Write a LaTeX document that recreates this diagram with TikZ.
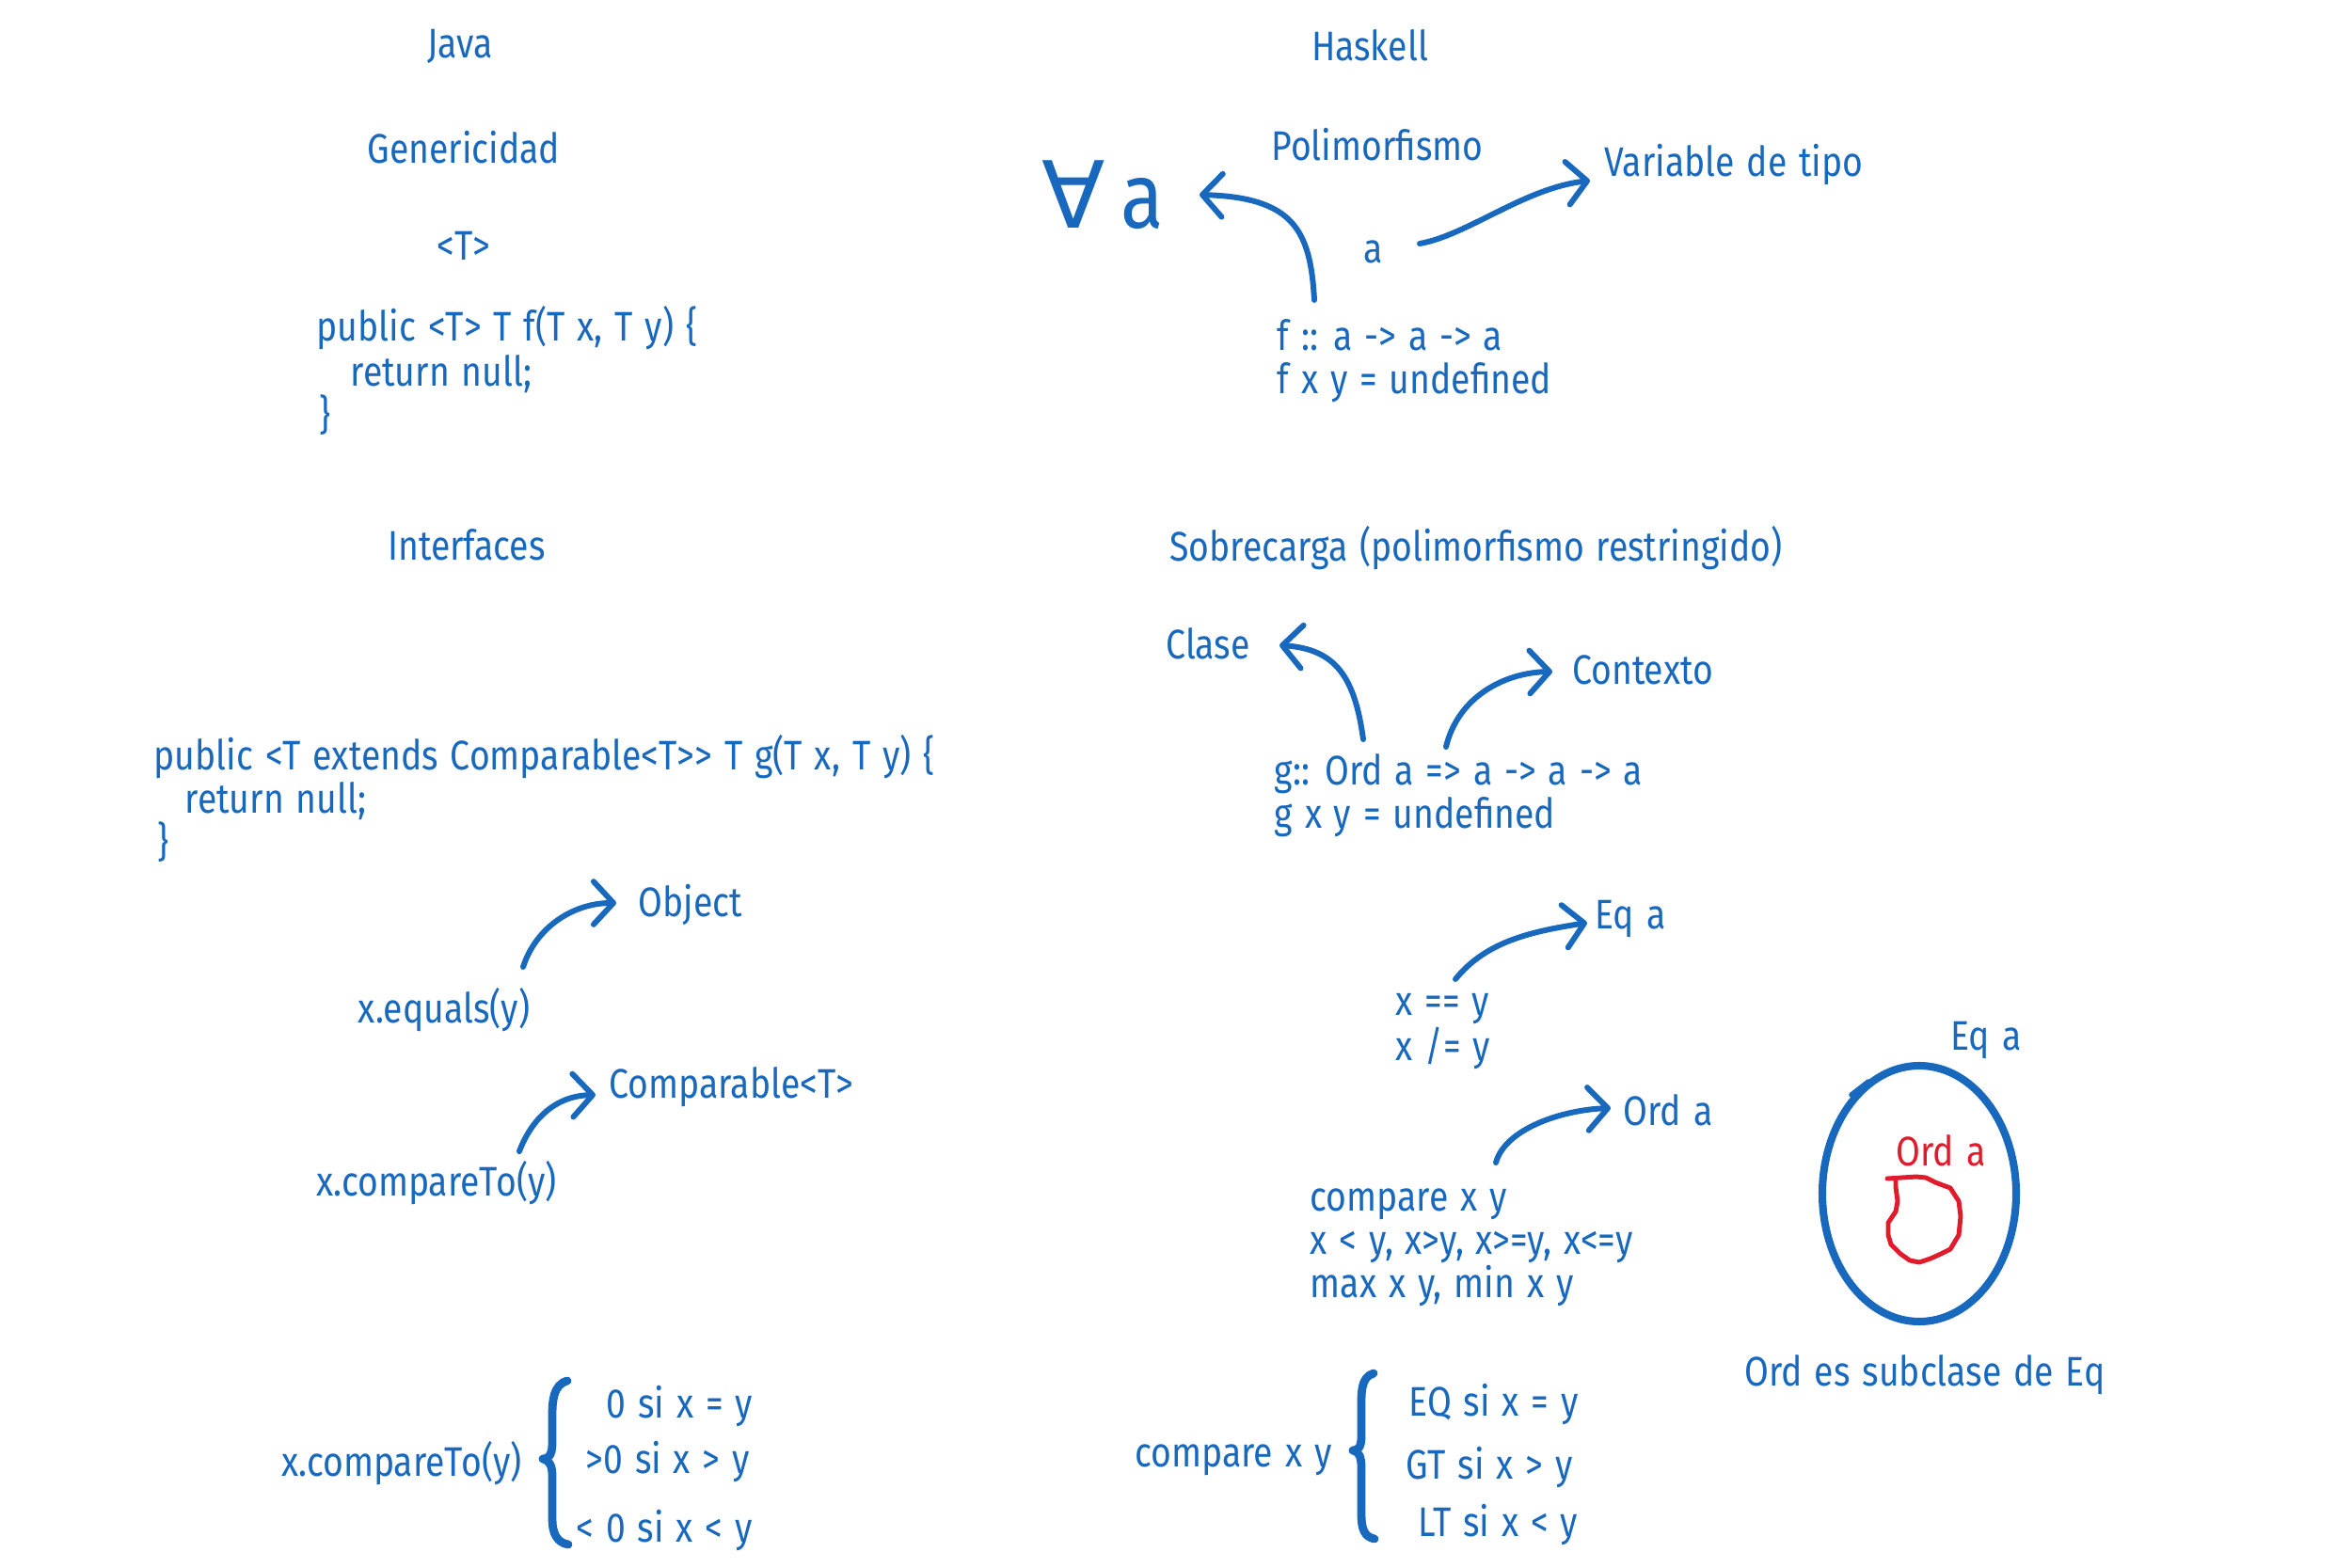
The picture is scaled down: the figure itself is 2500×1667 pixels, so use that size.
\documentclass[tikz,border=0pt]{standalone}
\usepackage{fontspec}
\setmainfont[FakeStretch=0.85,WordSpace=1.3]{Fira Sans}
\newfontfamily\symfont{DejaVu Sans}
\usetikzlibrary{arrows.meta}
\definecolor{ink}{HTML}{1868BE}
\definecolor{redink}{HTML}{E01B2B}
\tikzset{
  txt/.style={text=ink, font=\fontsize{12.5}{13.3}\selectfont, inner sep=0pt, yshift=-0.06cm},
  lt/.style={txt, anchor=base west},
  ct/.style={txt, anchor=base},
  arr/.style={draw=ink, line width=1.7pt, line cap=round, line join=round,
    -{Straight Barb[length=6pt,width=13pt,round]}},
  brace/.style={draw=ink, line width=2.5pt, line cap=round, line join=round},
}
\begin{document}
\begin{tikzpicture}[x=0.01cm,y=-0.01cm]
\useasboundingbox (0,0) rectangle (2500,1667);
\fill[white] (0,0) rectangle (2500,1667);

% ---------- Java column ----------
\node[ct] (java) at (489,56) {Java};
\node[ct] (gen) at (493,168) {Genericidad};
\node[ct] (tpar) at (493,271) {<T>};
\node[lt] (j1) at (336,356) {public <T> T f(T x, T y) \{};
\node[lt] (j2) at (372,404) {return null;};
\node[lt] (j3) at (339,450) {\}};

\node[ct] (interf) at (496,589) {Interfaces};
\node[lt] (k1) at (163,812) {public <T extends Comparable<T>{}> T g(T x, T y) \{};
\node[lt] (k2) at (196,858) {return null;};
\node[lt] (k3) at (167,904) {\}};

\node[lt] (object) at (678,968) {Object};
\node[ct] (equals) at (472,1081) {x.equals(y)};
\node[lt] (compT) at (647,1161) {Comparable<T>};
\node[ct] (compTo) at (464,1265) {x.compareTo(y)};

\coordinate (e1) at (556,1028); \coordinate (e2) at (655,960);
\draw[arr] (e1) .. controls (570,985) and (610,960) .. (e2);
\coordinate (c1) at (552,1224); \coordinate (c2) at (633,1164);
\draw[arr] (c1) .. controls (565,1190) and (590,1165) .. (c2);

\node[ct] (compTo2) at (427,1563) {x.compareTo(y)};
\draw[brace] (603,1468) .. controls (588,1472) and (587,1490) .. (587,1505)
  -- (587,1535) .. controls (587,1548) and (582,1551) .. (577,1551)
  .. controls (582,1552) and (587,1556) .. (587,1568)
  -- (587,1615) .. controls (587,1630) and (592,1640) .. (604,1642);
\node[lt] (jc1) at (644,1501) {0 si x = y};
\node[lt] (jc2) at (622,1560) {>0 si x > y};
\node[lt] (jc3) at (612,1633) {< 0 si x < y};

% ---------- Haskell column ----------
\node[ct] (haskell) at (1456,59) {Haskell};
\node[ct] (polim) at (1464,165) {Polimorfismo};
\node[txt, font=\fontsize{28}{30}\selectfont, yshift=0.06cm] (forall) at (1172,207) {{\symfont ∀}\,a};
\node[ct] (avar) at (1460,273) {a};
\node[ct] (vartipo) at (1843,182) {Variable de tipo};
\node[lt] (f1) at (1357,366) {f :: a -> a -> a};
\node[lt] (f2) at (1357,412) {f x y = undefined};

\coordinate (a1s) at (1397,319); \coordinate (a1e) at (1275,207);
\draw[arr] (a1s) .. controls (1393,245) and (1375,210) .. (a1e);
\coordinate (a2s) at (1509,259); \coordinate (a2e) at (1690,192);
\draw[arr] (a2s) .. controls (1560,250) and (1620,200) .. (a2e);

\node[ct] (sobre) at (1569,590) {Sobrecarga (polimorfismo restringido)};
\node[ct] (clase) at (1284,694) {Clase};
\node[ct] (contexto) at (1746,721) {Contexto};
\node[lt] (g1) at (1354,828) {g:: Ord a => a -> a -> a};
\node[lt] (g2) at (1354,874) {g x y = undefined};

\coordinate (a3s) at (1449,786); \coordinate (a3e) at (1360,686);
\draw[arr] (a3s) .. controls (1440,720) and (1420,690) .. (a3e);
\coordinate (a4s) at (1537,794); \coordinate (a4e) at (1650,714);
\draw[arr] (a4s) .. controls (1550,740) and (1600,715) .. (a4e);

\node[lt] (eqa) at (1695,981) {Eq a};
\node[lt] (xeq) at (1483,1073) {x == y};
\node[lt] (xne) at (1483,1121) {x /= y};
\coordinate (a7s) at (1547,1041); \coordinate (a7e) at (1687,981);
\draw[arr] (a7s) .. controls (1580,1000) and (1630,990) .. (a7e);

\node[lt] (orda) at (1725,1190) {Ord a};
\node[lt] (cmp1) at (1392,1281) {compare x y};
\node[lt] (cmp2) at (1392,1327) {x < y, x>y, x>=y, x<=y};
\node[lt] (cmp3) at (1392,1373) {max x y, min x y};
\coordinate (a8s) at (1590,1236); \coordinate (a8e) at (1712,1178);
\draw[arr] (a8s) .. controls (1600,1200) and (1660,1180) .. (a8e);

% set diagram
\node[ct] (eqset) at (2111,1110) {Eq a};
\draw[draw=ink, line width=2.3pt] (2040,1269) ellipse [x radius=103, y radius=136];
\draw[draw=ink, line width=1.6pt, line cap=round] (1968,1164) -- (1986,1150);
\node[ct, text=redink] (ordset) at (2063,1233) {Ord a};
\draw[draw=redink, line width=1.4pt, line join=round, line cap=round]
  (2006,1253) -- (2037,1251) -- (2047,1252) -- (2057,1257) -- (2073,1263)
  -- (2082,1277) -- (2084,1293) -- (2082,1313) -- (2073,1328) -- (2063,1333)
  -- (2052,1338) -- (2040,1342) -- (2030,1340) -- (2020,1333) -- (2010,1323)
  -- (2007,1313) -- (2007,1300) -- (2015,1288) -- (2017,1277) -- (2015,1262)
  -- (2015,1253);
\node[ct] (subcl) at (2046,1467) {Ord es subclase de Eq};

\node[ct] (cmpb) at (1311,1553) {compare x y};
\draw[brace] (1460,1460) .. controls (1446,1464) and (1447,1482) .. (1447,1497)
  -- (1447,1527) .. controls (1447,1538) and (1444,1542) .. (1438,1542)
  .. controls (1444,1543) and (1447,1548) .. (1447,1560)
  -- (1447,1610) .. controls (1447,1625) and (1450,1634) .. (1461,1636);
\node[lt] (hc1) at (1497,1499) {EQ si x = y};
\node[lt] (hc2) at (1494,1566) {GT si x > y};
\node[lt] (hc3) at (1507,1627) {LT si x < y};
\end{tikzpicture}
\end{document}
